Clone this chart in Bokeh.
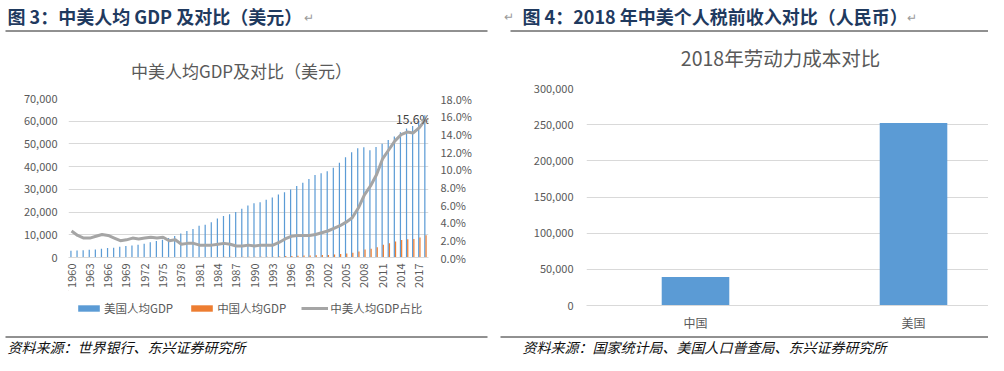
import math
from bokeh.plotting import figure
from bokeh.layouts import row, column
from bokeh.models import (Range1d, LinearAxis, FixedTicker, NumeralTickFormatter,
                          PrintfTickFormatter, Label, Legend, LegendItem)
from bokeh.embed import file_html
from bokeh.resources import INLINE

# ---------------- data: chart 1 ----------------
years = list(range(1960, 2019))
us_gdp = [3007, 3067, 3244, 3375, 3574, 3828, 4146, 4336, 4696, 5032,
          5234, 5609, 6094, 6726, 7226, 7801, 8592, 9453, 10565, 11674,
          12575, 13976, 14434, 15544, 17121, 18237, 19071, 20039, 21417, 22857,
          23889, 24342, 25419, 26387, 27695, 28691, 29968, 31459, 32854, 34515,
          36335, 37133, 38023, 39496, 41713, 44115, 46299, 48050, 48570, 47195,
          48651, 50066, 51784, 53291, 55124, 56763, 57867, 59895, 62641]
cn_gdp = [90, 76, 70, 74, 85, 98, 104, 97, 91, 100,
          113, 119, 132, 157, 160, 178, 165, 185, 156, 184,
          195, 197, 203, 225, 251, 294, 282, 252, 284, 311,
          318, 333, 366, 377, 473, 610, 709, 782, 829, 873,
          959, 1053, 1149, 1289, 1509, 1753, 2099, 2694, 3468, 3832,
          4550, 5618, 6317, 7051, 7679, 8067, 8148, 8827, 9771]
ratio_pct = [3.0, 2.5, 2.2, 2.2, 2.4, 2.6, 2.5, 2.2, 1.9, 2.0,
             2.2, 2.1, 2.2, 2.3, 2.2, 2.3, 1.9, 2.0, 1.5, 1.6,
             1.6, 1.4, 1.4, 1.4, 1.5, 1.6, 1.5, 1.3, 1.3, 1.4,
             1.3, 1.4, 1.4, 1.4, 1.7, 2.1, 2.4, 2.5, 2.5, 2.5,
             2.6, 2.8, 3.0, 3.3, 3.6, 4.0, 4.5, 5.6, 7.1, 8.1,
             9.4, 11.2, 12.2, 13.2, 13.9, 14.2, 14.1, 14.7, 15.6]
x_tick_years = years[::3]
left_ticks = [0, 10000, 20000, 30000, 40000, 50000, 60000, 70000]
right_ticks = [0, 2, 4, 6, 8, 10, 12, 14, 16, 18]
series_names = ["美国人均GDP", "中国人均GDP", "中美人均GDP占比"]

# ---------------- data: chart 2 ----------------
income_cats = ["中国", "美国"]
income_vals = [39400, 252200]
income_ticks = [0, 50000, 100000, 150000, 200000, 250000, 300000]

# ---------------- texts ----------------
head_left = "图 3：中美人均 GDP 及对比（美元）"
head_right = "图 4：2018 年中美个人税前收入对比（人民币）"
title_left = "中美人均GDP及对比（美元）"
title_right = "2018年劳动力成本对比"
source_left = "资料来源：世界银行、东兴证券研究所"
source_right = "资料来源：国家统计局、美国人口普查局、东兴证券研究所"

CJK = "Noto Sans CJK SC"
GRAY = "#595959"
GRID = "#D9D9D9"
HEAD = "#1F3A5F"
US_C = "#5B9BD5"
CN_C = "#ED7D31"
RATIO_C = "#A5A5A5"
W = 988


def strip(w, x0, x1, y0, y1, bl, br):
    """A bare figure whose data coordinates equal page pixels."""
    f = figure(width=w, height=y1 - y0, x_range=Range1d(x0, x1), y_range=Range1d(y1, y0),
               x_axis_location=None, y_axis_location=None, title=None,
               output_backend="svg", toolbar_location=None,
               min_border_left=bl, min_border_right=br, min_border_top=0, min_border_bottom=0)
    f.outline_line_color = None
    f.xgrid.visible = False
    f.ygrid.visible = False
    return f


def txt(f, x, y, text, size, color, style="normal", align="left"):
    f.add_layout(Label(x=x, y=y, text=text, text_font=CJK, text_font_size=f"{size}px",
                       text_color=color, text_font_style=style, text_align=align,
                       text_baseline="middle"))


def style_axis(ax, size="11px"):
    ax.axis_line_color = None
    ax.major_tick_line_color = None
    ax.minor_tick_line_color = None
    ax.major_tick_out = 0
    ax.major_tick_in = 0
    ax.minor_tick_out = 0
    ax.major_label_text_color = GRAY
    ax.major_label_text_font = CJK
    ax.major_label_text_font_size = size


# ================= header (y 0..44) =================
hd = strip(W, 0, W, 0, 44, 0, 0)
txt(hd, 7, 15, head_left, 18, HEAD, "bold")
txt(hd, 303, 16, "↵", 12, "#9A9A9A")
txt(hd, 503, 15, "↵", 12, "#9A9A9A")
txt(hd, 522, 15, head_right, 18, HEAD, "bold")
txt(hd, 906, 16, "↵", 12, "#9A9A9A")
hd.segment(x0=[5, 510], y0=[30.5, 30.5], x1=[487, 988], y1=[30.5, 30.5],
           line_color="#222222", line_width=1)

# ================= left column =================
t1 = strip(494, 68, 428, 44, 84, 68, 66)
txt(t1, 241, 70, title_left, 17, GRAY, align="center")

p1 = figure(width=494, height=206, x_range=Range1d(1959.5, 2018.5), y_range=Range1d(0, 70000),
            title=None, output_backend="svg", toolbar_location=None,
            min_border_left=68, min_border_right=66, min_border_top=14, min_border_bottom=33)
p1.extra_y_ranges = {"pct": Range1d(0, 18)}
p1.outline_line_color = None
p1.xgrid.visible = False
p1.ygrid.grid_line_color = GRID
p1.ygrid.ticker = FixedTicker(ticks=left_ticks)

bw = 0.2
us_x = [y - bw / 2 for y in years]
cn_x = [y + bw / 2 for y in years]
p1.vbar(x=us_x, top=us_gdp, width=bw, fill_color=US_C, line_color=None)
p1.vbar(x=cn_x, top=cn_gdp, width=bw, fill_color=CN_C, line_color=None)
p1.line(years, ratio_pct, y_range_name="pct", line_color=RATIO_C, line_width=3)

p1.yaxis.ticker = FixedTicker(ticks=left_ticks)
p1.yaxis.formatter = NumeralTickFormatter(format="0,0")
style_axis(p1.yaxis[0])
p1.yaxis.major_label_standoff = 11

ax_r = LinearAxis(y_range_name="pct", ticker=FixedTicker(ticks=right_ticks),
                  formatter=PrintfTickFormatter(format="%.1f%%"))
style_axis(ax_r)
ax_r.major_label_standoff = 12
p1.add_layout(ax_r, "right")

p1.xaxis.ticker = FixedTicker(ticks=x_tick_years)
style_axis(p1.xaxis[0])
p1.xaxis.axis_line_color = GRID
p1.xaxis.major_label_orientation = math.pi / 2
p1.xaxis.major_label_standoff = 6

p1.add_layout(Label(x=years[-1], y=ratio_pct[-1], y_range_name="pct",
                    text=f"{ratio_pct[-1]:.1f}%", text_font=CJK, text_font_size="12px",
                    text_color="#404040", text_align="right", text_baseline="middle",
                    x_offset=5, y_offset=1))

# legend strip under the left chart (y 290..333); zero-size key glyphs carry the styles
lg = strip(494, 68, 428, 290, 333, 68, 66)
k_us = lg.vbar(x=[0], top=[0], bottom=[0], width=0, fill_color=US_C, line_color=None)
k_cn = lg.vbar(x=[0], top=[0], bottom=[0], width=0, fill_color=CN_C, line_color=None)
k_ratio = lg.line(x=[0, 0], y=[0, 0], line_color=RATIO_C, line_width=3, line_alpha=1)
legend = Legend(items=[LegendItem(label=series_names[0], renderers=[k_us]),
                       LegendItem(label=series_names[1], renderers=[k_cn]),
                       LegendItem(label=series_names[2], renderers=[k_ratio])],
                orientation="horizontal", location=(7, 17), padding=0, margin=0,
                spacing=15, glyph_width=27, glyph_height=8, label_standoff=2, label_height=14,
                label_text_font=CJK, label_text_font_size="11.5px", label_text_color=GRAY,
                border_line_alpha=0, background_fill_alpha=0)
lg.add_layout(legend)

# ================= right column =================
t2 = strip(494, 586, 988, 44, 78, 92, 0)
txt(t2, 780, 57, title_right, 19.5, GRAY, align="center")

p2 = figure(width=494, height=255, x_range=Range1d(0, 1.844), y_range=Range1d(0, 300000),
            title=None, output_backend="svg", toolbar_location=None,
            min_border_left=92, min_border_right=0, min_border_top=10, min_border_bottom=26)
p2.outline_line_color = None
p2.xgrid.visible = False
p2.ygrid.grid_line_color = GRID
p2.ygrid.ticker = FixedTicker(ticks=income_ticks)

cat_x = [i + 0.5 for i in range(len(income_cats))]
p2.vbar(x=cat_x, top=income_vals, width=0.31, fill_color=US_C, line_color=None)

p2.yaxis.ticker = FixedTicker(ticks=income_ticks)
p2.yaxis.formatter = NumeralTickFormatter(format="0,0")
style_axis(p2.yaxis[0])
p2.yaxis.major_label_standoff = 13

p2.xaxis.ticker = FixedTicker(ticks=cat_x)
p2.xaxis.major_label_overrides = {x: c for x, c in zip(cat_x, income_cats)}
style_axis(p2.xaxis[0], "12px")
p2.xaxis.axis_line_color = GRID
p2.xaxis.major_label_standoff = 8

# ================= footer (y 333..355) =================
ft = strip(W, 0, W, 333, 355, 0, 0)
ft.segment(x0=[5, 500], y0=[336.5, 336.5], x1=[487, 988], y1=[336.5, 336.5],
           line_color="#222222", line_width=1)
txt(ft, 7, 346, source_left, 14, "#111111", "italic")
txt(ft, 522, 346, source_right, 14, "#111111", "italic")

layout = column(hd, row(column(t1, p1, lg), column(t2, p2)), ft)
open("out.html", "w").write(file_html(layout, INLINE))
